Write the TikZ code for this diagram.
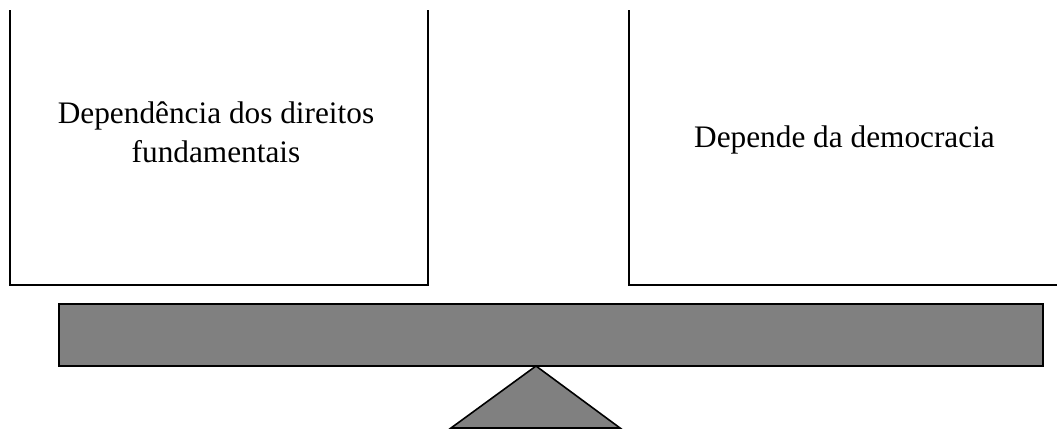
\documentclass[tikz,border=0pt]{standalone}
\usepackage{fontspec}
\setmainfont{Liberation Serif}
\begin{document}
\begin{tikzpicture}[x=1pt,y=-1pt,
  frame/.style={draw=black,line width=2.2pt},
  beam/.style={draw=black,fill=black!50,line width=1.6pt},
  lbl/.style={font=\fontsize{31.3}{39}\selectfont,anchor=base,inner sep=0pt}]
\useasboundingbox (0,0) rectangle (1057,431);
% left box (open at top)
\coordinate (l1) at (10,10);
\coordinate (l2) at (10,285);
\coordinate (l3) at (428,285);
\coordinate (l4) at (428,10);
\draw[frame] (l1) -- (l2) -- (l3) -- (l4);
% right box (open at top and right)
\coordinate (r1) at (629,10);
\coordinate (r2) at (629,285);
\coordinate (r3) at (1057,285);
\draw[frame] (r1) -- (r2) -- (r3);
% texts
\node[lbl] (t1) at (216,123) {Dependência dos direitos};
\node[lbl] (t2) at (216,162) {fundamentais};
\node[lbl] (t3) at (844.5,147) {Depende da democracia};
% beam and fulcrum
\node[beam,rectangle,minimum width=984pt,minimum height=62pt,inner sep=0pt,anchor=north west] (bar) at (58,303) {};
\coordinate (apex) at (536,366);
\coordinate (bl) at (451,428);
\coordinate (br) at (620,428);
\draw[beam] (apex) -- (br) -- (bl) -- cycle;
\end{tikzpicture}
\end{document}
